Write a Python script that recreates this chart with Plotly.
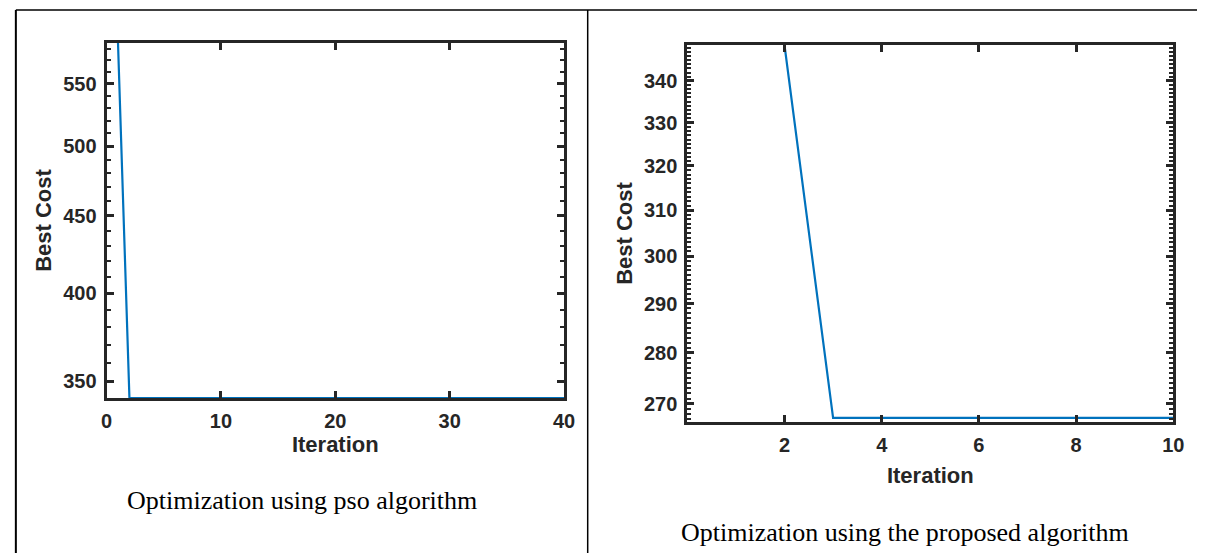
import math
import plotly.graph_objects as go

# ---- data ----
pso_iter = list(range(1, 41))
pso_cost = [585.0] + [341.3] * 39

prop_iter = list(range(2, 11))
prop_cost = [348.8] + [267.3] * 8

left_xticks = [0, 10, 20, 30, 40]
left_yticks = [350, 400, 450, 500, 550]
right_xticks = [2, 4, 6, 8, 10]
right_yticks = [270, 280, 290, 300, 310, 320, 330, 340]

captions = ["Optimization using pso algorithm", "Optimization using the proposed algorithm"]

W, H = 1208, 553
AX = "#262626"
LINE = "#0072BD"

def px(x):
    return x / W

def py(y):
    return 1 - y / H

fig = go.Figure()
fig.add_trace(go.Scatter(x=pso_iter, y=pso_cost, mode="lines",
                         line=dict(color=LINE, width=2.2), xaxis="x", yaxis="y",
                         showlegend=False, hoverinfo="skip"))
fig.add_trace(go.Scatter(x=prop_iter, y=prop_cost, mode="lines",
                         line=dict(color=LINE, width=2.2), xaxis="x2", yaxis="y2",
                         showlegend=False, hoverinfo="skip"))

tickfont = dict(family="Arial, Liberation Sans, sans-serif", size=20, color=AX, weight="bold")
titlefont = dict(family="Arial, Liberation Sans, sans-serif", size=22, color=AX, weight="bold")

common = dict(showgrid=False, zeroline=False, showline=True, linewidth=3, linecolor=AX,
              mirror="ticks", ticks="inside", ticklen=7, tickwidth=2.5, tickcolor=AX,
              tickfont=tickfont, fixedrange=True, ticklabelstandoff=3)

left_minor = [v for v in range(340, 590, 10) if v not in left_yticks]
right_minor = [v for v in range(266, 349) if v not in right_yticks]

fig.update_layout(
    width=W, height=H, margin=dict(l=0, r=0, t=0, b=0),
    paper_bgcolor="white", plot_bgcolor="white",
    xaxis=dict(domain=[px(102), px(566)], range=[0, 40], tickvals=left_xticks,
               title=dict(text="Iteration", font=titlefont, standoff=6),
               anchor="y", **common),
    yaxis=dict(domain=[py(398), py(43)], type="log",
               range=[math.log10(341.3), math.log10(585)],
               tickvals=left_yticks, ticktext=[str(v) for v in left_yticks],
               minor=dict(tickvals=left_minor, ticks="inside", ticklen=4, tickwidth=2, tickcolor=AX),
               title=dict(text="Best Cost", font=titlefont, standoff=6),
               anchor="x", **common),
    xaxis2=dict(domain=[px(691), px(1184)], range=[0, 10], tickvals=right_xticks,
                title=dict(text="Iteration", font=titlefont, standoff=13),
                anchor="y2", **common),
    yaxis2=dict(domain=[py(422), py(45)], type="log",
                range=[math.log10(266.5), math.log10(348.8)],
                tickvals=right_yticks, ticktext=[str(v) for v in right_yticks],
                minor=dict(tickvals=right_minor, ticks="inside", ticklen=4, tickwidth=2, tickcolor=AX),
                title=dict(text="Best Cost", font=titlefont, standoff=6),
                anchor="x2", **common),
)

capfont = dict(family="Times New Roman, Liberation Serif, serif", size=26, color="black")
fig.add_annotation(text=captions[0], x=px(300), y=py(500), xref="paper", yref="paper",
                   showarrow=False, font=capfont, xanchor="center", yanchor="middle")
fig.add_annotation(text=captions[1], x=px(912), y=py(532), xref="paper", yref="paper",
                   showarrow=False, font=capfont, xanchor="center", yanchor="middle")

# table borders
border = dict(color="black", width=1.5)
fig.add_shape(type="line", xref="paper", yref="paper", x0=px(10), x1=1, y0=py(10), y1=py(10), line=border)
fig.add_shape(type="line", xref="paper", yref="paper", x0=px(10), x1=px(10), y0=py(10), y1=0, line=dict(color="black", width=2))
fig.add_shape(type="line", xref="paper", yref="paper", x0=px(590), x1=px(590), y0=py(10), y1=0, line=border)

fig.write_html("out.html", config={"displayModeBar": False},
               post_script="document.body.style.margin='0px';document.body.style.overflow='hidden';")
